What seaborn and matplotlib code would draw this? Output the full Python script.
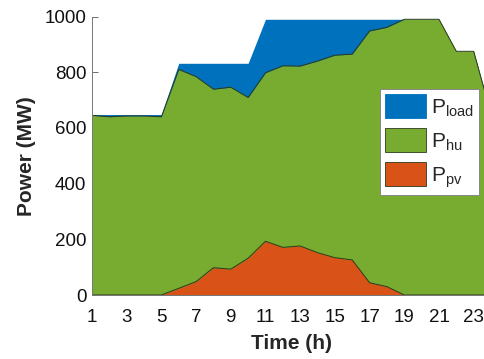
import numpy as np
import pandas as pd
import matplotlib
matplotlib.use("Agg")
import matplotlib.pyplot as plt
import seaborn as sns
from matplotlib.patches import Patch

# Hourly dispatch (MW)
hours = list(range(1, 25))
p_load = [648, 648, 648, 648, 648, 832, 832, 832, 832, 832, 990, 990,
          990, 990, 990, 990, 990, 990, 990, 990, 990, 875, 875, 650]
p_pv = [0, 0, 0, 0, 0, 24, 48, 98, 93, 132, 193, 171,
        176, 152, 134, 126, 44, 30, 0, 0, 0, 0, 0, 0]
p_hu = [645, 640, 643, 643, 640, 786, 736, 641, 653, 577, 605, 652,
        646, 688, 727, 739, 904, 931, 990, 990, 990, 875, 875, 650]
xticks = [1, 3, 5, 7, 9, 11, 13, 15, 17, 19, 21, 23]
yticks = [0, 200, 400, 600, 800, 1000]

df = pd.DataFrame({"hour": hours, "load": p_load, "pv": p_pv, "hu": p_hu})
df["supply"] = df["pv"] + df["hu"]

c_load, c_hu, c_pv = "#0072BD", "#77AC30", "#D95319"
edge = "#2b3a1a"

sns.set_theme(style="white")
plt.rcParams["font.family"] = ["Liberation Sans", "DejaVu Sans"]
plt.rcParams["mathtext.fontset"] = "custom"
plt.rcParams["mathtext.rm"] = "Liberation Sans"

fig = plt.figure(figsize=(4.85, 3.59), dpi=100)
ax = fig.add_axes([92 / 485, 1 - 295 / 359, (491 - 92) / 485, (295 - 16.5) / 359])

ax.fill_between(df["hour"], 0, df["load"], color=c_load, lw=0)
ax.fill_between(df["hour"], 0, df["supply"], color=c_hu, lw=0)
ax.fill_between(df["hour"], 0, df["pv"], color=c_pv, lw=0)
sns.lineplot(data=df, x="hour", y="supply", ax=ax, color=edge, lw=0.7)
sns.lineplot(data=df, x="hour", y="pv", ax=ax, color=edge, lw=0.7)

ax.set_xlim(1, 24)
ax.set_ylim(0, 1000)
ax.set_xticks(xticks)
ax.set_yticks(yticks)
ax.tick_params(direction="in", length=4, width=0.6, colors="#555555",
               labelcolor="#111111", labelsize=13.5, pad=4,
               bottom=True, left=True)
ax.tick_params(axis="x", pad=10)
for side in ["top", "right"]:
    ax.spines[side].set_visible(False)
for side in ["left", "bottom"]:
    ax.spines[side].set_color("#777777")
    ax.spines[side].set_linewidth(0.7)

ax.set_xlabel("Time (h)", fontsize=15, fontweight="bold", labelpad=6)
ax.set_ylabel("Power (MW)", fontsize=15, fontweight="bold", labelpad=6)

handles = [Patch(facecolor=c_load, edgecolor=c_load, lw=0.6),
           Patch(facecolor=c_hu, edgecolor=edge, lw=0.6),
           Patch(facecolor=c_pv, edgecolor=edge, lw=0.6)]
labels = [r"P$_{\mathregular{load}}$", r"P$_{\mathregular{hu}}$", r"P$_{\mathregular{pv}}$"]
leg = fig.legend(handles, labels, loc="upper left",
                 bbox_to_anchor=(380 / 485, 1 - 89 / 359),
                 fontsize=15, frameon=True, fancybox=False, framealpha=1,
                 handlelength=1.95, handleheight=1.4, labelspacing=0.45,
                 handletextpad=0.25, borderpad=0.25, borderaxespad=0)
leg.get_frame().set_facecolor("white")
leg.get_frame().set_edgecolor("#888888")
leg.get_frame().set_linewidth(0.7)

fig.savefig("out.png", dpi=100)
